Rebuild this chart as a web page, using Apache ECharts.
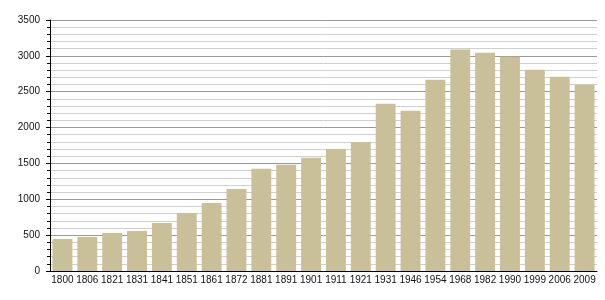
<!DOCTYPE html>
<html>
<head>
<meta charset="utf-8">
<script src="https://cdn.jsdelivr.net/npm/echarts@6/dist/echarts.min.js"></script>
<style>html,body{margin:0;padding:0;background:#fff;}#c{width:605px;height:300px;}</style>
</head>
<body>
<div id="c"></div>
<script>
const years = ['1800','1806','1821','1831','1841','1851','1861','1872','1881','1891','1901','1911','1921','1931','1946','1954','1968','1982','1990','1999','2006','2009'];
const population = [447,475,531,559,670,810,948,1145,1425,1480,1578,1700,1797,2332,2235,2668,3087,3045,2989,2807,2709,2598];
const yTicks = [0,500,1000,1500,2000,2500,3000,3500];

const chart = echarts.init(document.getElementById('c'), null, {renderer:'canvas'});
chart.setOption({
  animation:false,
  grid:{left:50,right:8,top:20,bottom:29,containLabel:false},
  xAxis:{
    type:'category',
    data:years,
    axisLine:{show:true,lineStyle:{color:'#000',width:1}},
    axisTick:{show:false},
    axisLabel:{color:'#111',fontFamily:'Liberation Sans, Arial, sans-serif',fontSize:10,margin:4,interval:0}
  },
  yAxis:{
    type:'value',
    min:yTicks[0],max:yTicks[yTicks.length-1],interval:500,
    axisLine:{show:true,lineStyle:{color:'#000',width:1}},
    axisTick:{show:true,length:4,lineStyle:{color:'#000'}},
    minorTick:{show:true,splitNumber:5,length:3,lineStyle:{color:'#000'}},
    splitLine:{show:true,lineStyle:{color:'#999',width:1}},
    minorSplitLine:{show:true,lineStyle:{color:'#cfcfcf',width:1}},
    axisLabel:{color:'#111',fontFamily:'Liberation Sans, Arial, sans-serif',fontSize:10,margin:10,formatter:function(v){return String(v);}}
  },
  series:[{
    type:'bar',
    data:population,
    barCategoryGap:'20%',
    itemStyle:{color:'#c9bf99'}
  }]
});
</script>
</body>
</html>
